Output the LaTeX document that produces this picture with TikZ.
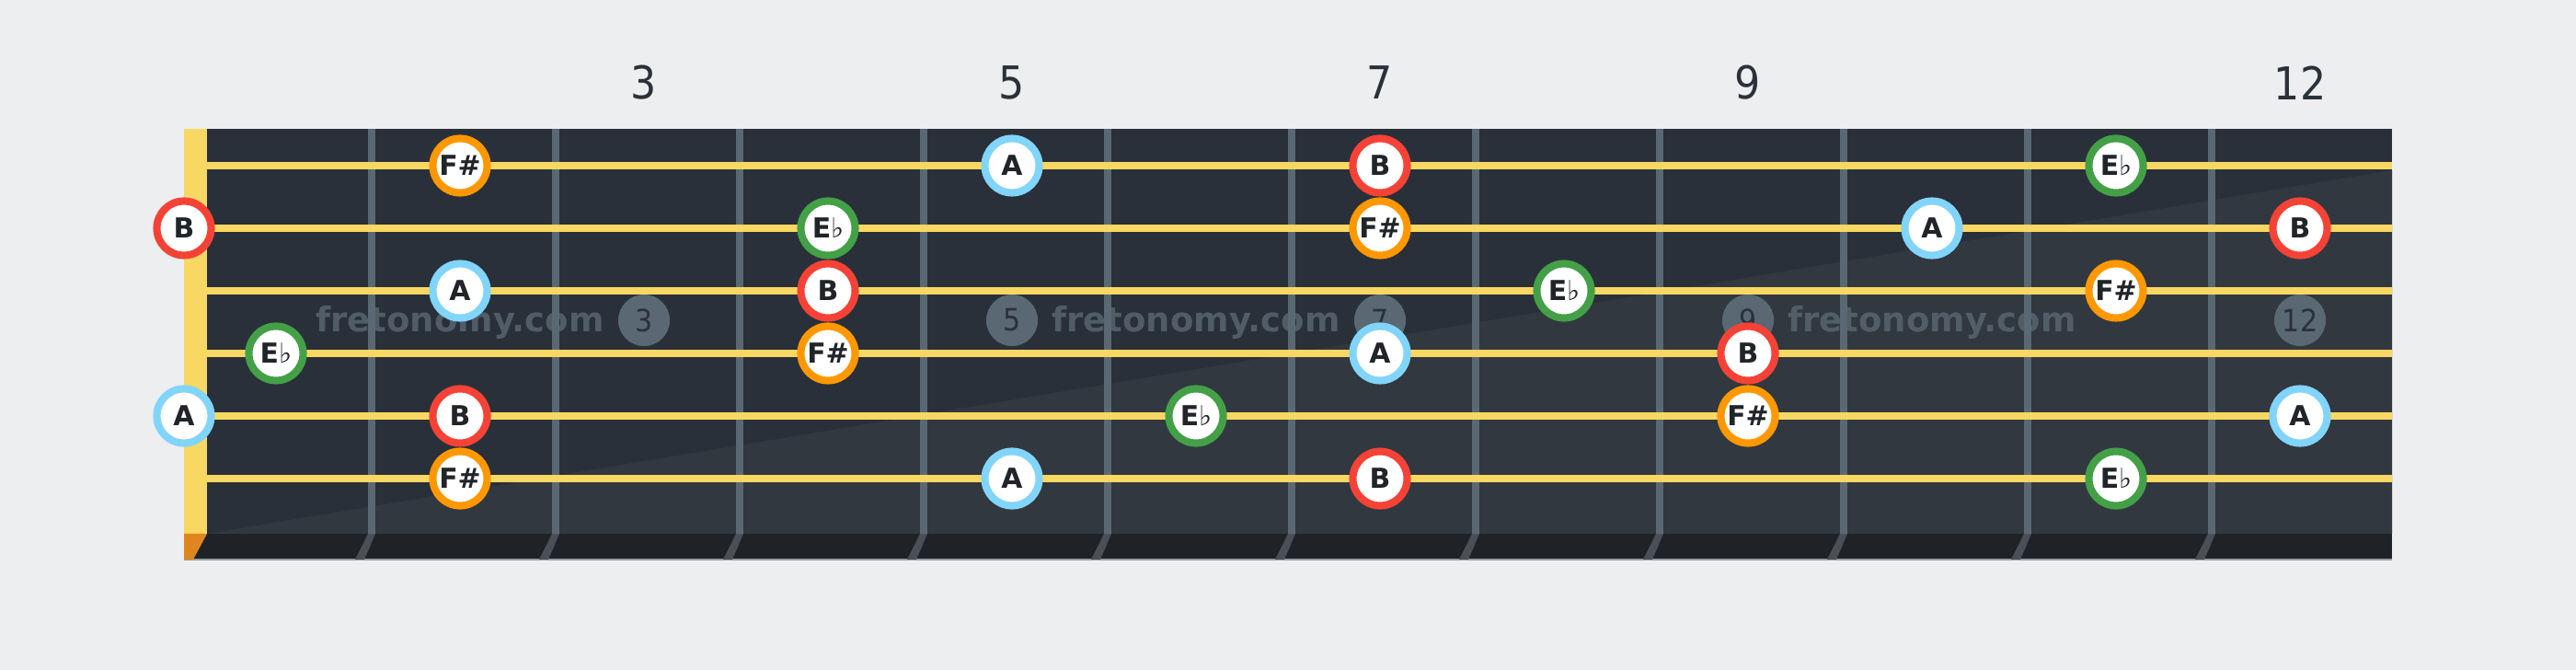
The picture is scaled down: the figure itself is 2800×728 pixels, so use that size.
\documentclass[tikz,border=0pt]{standalone}
\usepackage{fontspec}
\setmainfont{DejaVu Sans}
\newfontfamily\numfont{DejaVu Sans Condensed}
\usepackage{tikz}
\usetikzlibrary{positioning}
\definecolor{pageBg}{RGB}{237,238,240}
\definecolor{boardDark}{RGB}{41,48,57}
\definecolor{boardLight}{RGB}{49,56,64}
\definecolor{stripDark}{RGB}{31,35,39}
\definecolor{slantGrey}{RGB}{74,80,86}
\definecolor{edgeGrey}{RGB}{150,158,166}
\definecolor{fretGrey}{RGB}{90,104,115}
\definecolor{stringYellow}{RGB}{248,216,98}
\definecolor{nutOrange}{RGB}{224,134,30}
\definecolor{noteRed}{RGB}{244,67,54}
\definecolor{noteOrange}{RGB}{255,152,0}
\definecolor{noteBlue}{RGB}{129,212,250}
\definecolor{noteGreen}{RGB}{67,160,71}
\definecolor{noteText}{RGB}{33,37,41}
\definecolor{numText}{RGB}{43,49,58}
\newcommand{\flt}{{\mdseries\char"266D}}

\begin{document}
\begin{tikzpicture}[
					x=0.01cm, y=-0.01cm,
					% Style cho các nốt
					note/.style={
						circle, fill=white, line width=2.3pt,
						inner sep=0pt, minimum size=0.59cm,
						font=\bfseries\fontsize{8.5}{9}\selectfont, text=noteText
					},
					note_b/.style={note, draw=noteRed},
					note_fs/.style={note, draw=noteOrange},
					note_a/.style={note, draw=noteBlue},
					note_eb/.style={note, draw=noteGreen},
					% Style cho chấm khảm trên cần đàn
					inlay/.style={
						circle, fill=fretGrey, inner sep=0pt, minimum size=0.56cm,
						font=\numfont\fontsize{9.5}{10}\selectfont, text=numText
					},
					fret_num/.style={font=\numfont\fontsize{14}{16}\selectfont, text=numText},
					watermark/.style={font=\bfseries\fontsize{10.5}{12}\selectfont, text=fretGrey, opacity=0.8},
					fret_line/.style={draw=fretGrey, line width=2.3pt},
					string_line/.style={draw=stringYellow, line width=2.3pt}
					]
					% Nền
					\fill[pageBg] (0,0) rectangle (2800,728);
					\useasboundingbox (0,0) rectangle (2800,728);
					
					% Cần đàn
					\fill[boardDark] (200,140) rectangle (2600,580);
					\fill[boardLight] (225,580) -- (2600,185) -- (2600,580) -- cycle;
					\fill[stripDark] (200,580) rectangle (2600,608);
					\draw[edgeGrey, line width=0.6pt] (200,608) -- (2600,608);
					
					% Phím đàn
					\foreach \f in {1,...,11} {
						\pgfmathsetmacro{\fx}{204+200*\f}
						\fill[slantGrey] (\fx-4,580) -- (\fx+4,580) -- (\fx-8,608) -- (\fx-18,608) -- cycle;
						\draw[fret_line] (\fx,140) -- (\fx,580);
					}
					
					% Lược đàn
					\fill[stringYellow] (200,140) rectangle (225,580);
					\fill[nutOrange] (200,580) -- (225,580) -- (210,608) -- (200,608) -- cycle;
					
					% Số phím phía trên
					\node[fret_num] (num3) at (700,90) {3};
					\node[fret_num] (num5) at (1100,90) {5};
					\node[fret_num] (num7) at (1500,90) {7};
					\node[fret_num] (num9) at (1900,90) {9};
					\node[fret_num] (num12) at (2500,90) {12};
					
					% Chữ mờ và chấm khảm
					\node[watermark] (wm1) at (500,350) {fretonomy.com};
					\node[watermark] (wm2) at (1300,350) {fretonomy.com};
					\node[watermark] (wm3) at (2100,350) {fretonomy.com};
					\node[inlay] (dot3) at (700,348) {3};
					\node[inlay] (dot5) at (1100,348) {5};
					\node[inlay] (dot7) at (1500,348) {7};
					\node[inlay] (dot9) at (1900,348) {9};
					\node[inlay] (dot12) at (2500,348) {12};
					
					% Dây đàn
					\foreach \s in {1,...,6} {
						\draw[string_line] (225,112+68*\s) -- (2600,112+68*\s);
					}
					
					% Dây 1
					\node[note_fs] (s1f2) at (500,180) {F\#};
					\node[note_a] (s1f5) at (1100,180) {A};
					\node[note_b] (s1f7) at (1500,180) {B};
					\node[note_eb] (s1f11) at (2300,180) {E\flt};
					% Dây 2
					\node[note_b] (s2f0) at (200,248) {B};
					\node[note_eb] (s2f4) at (900,248) {E\flt};
					\node[note_fs] (s2f7) at (1500,248) {F\#};
					\node[note_a] (s2f10) at (2100,248) {A};
					\node[note_b] (s2f12) at (2500,248) {B};
					% Dây 3
					\node[note_a] (s3f2) at (500,316) {A};
					\node[note_b] (s3f4) at (900,316) {B};
					\node[note_eb] (s3f8) at (1700,316) {E\flt};
					\node[note_fs] (s3f11) at (2300,316) {F\#};
					% Dây 4
					\node[note_eb] (s4f1) at (300,384) {E\flt};
					\node[note_fs] (s4f4) at (900,384) {F\#};
					\node[note_a] (s4f7) at (1500,384) {A};
					\node[note_b] (s4f9) at (1900,384) {B};
					% Dây 5
					\node[note_a] (s5f0) at (200,452) {A};
					\node[note_b] (s5f2) at (500,452) {B};
					\node[note_eb] (s5f6) at (1300,452) {E\flt};
					\node[note_fs] (s5f9) at (1900,452) {F\#};
					\node[note_a] (s5f12) at (2500,452) {A};
					% Dây 6
					\node[note_fs] (s6f2) at (500,520) {F\#};
					\node[note_a] (s6f5) at (1100,520) {A};
					\node[note_b] (s6f7) at (1500,520) {B};
					\node[note_eb] (s6f11) at (2300,520) {E\flt};
					
				\end{tikzpicture}
\end{document}
